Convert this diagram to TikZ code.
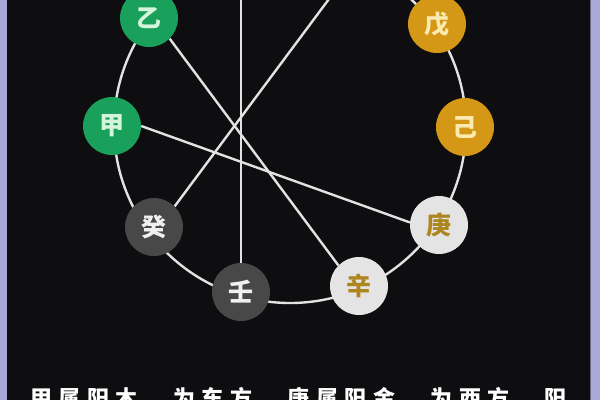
\documentclass[tikz,border=0pt]{standalone}
\usepackage{fontspec}
\setmainfont{Noto Sans CJK SC}
\usetikzlibrary{backgrounds}
\definecolor{bgc}{HTML}{0E0D10}
\definecolor{lav}{HTML}{A9A9D9}
\definecolor{edgec}{HTML}{6A6A8A}
\definecolor{linec}{HTML}{E2E2E2}
\definecolor{woodf}{HTML}{19A05A}
\definecolor{woodt}{HTML}{D4F5DC}
\definecolor{earthf}{HTML}{D59816}
\definecolor{eartht}{HTML}{FBEBB0}
\definecolor{metalf}{HTML}{E4E4E4}
\definecolor{metalt}{HTML}{AE8620}
\definecolor{waterf}{HTML}{484848}
\definecolor{watert}{HTML}{F0F0F0}
\begin{document}
\begin{tikzpicture}[x=1pt,y=-1pt,
  stem/.style={circle, minimum size=58pt, inner sep=0pt,
    font=\fontsize{25}{25}\selectfont\bfseries},
  wood/.style={stem, fill=woodf, text=woodt},
  earth/.style={stem, fill=earthf, text=eartht},
  metal/.style={stem, fill=metalf, text=metalt},
  water/.style={stem, fill=waterf, text=watert},
  link/.style={draw=linec, line width=2.4pt},
  caption/.style={anchor=base west, inner sep=0pt, text=white,
    font=\fontsize{22}{22}\selectfont\bfseries\addfontfeature{LetterSpace=30}}]
\useasboundingbox (0,0) rectangle (600,400);
% stems
\node[wood]  (yi)   at (149,18)  {乙};
\node[wood]  (jia)  at (112,126) {甲};
\node[water] (gui)  at (154,227) {癸};
\node[water] (ren)  at (241,292) {壬};
\node[metal] (xin)  at (359,286) {辛};
\node[metal] (geng) at (439,225) {庚};
\node[earth] (ji)   at (465,127) {己};
\node[earth] (wu)   at (437,24)  {戊};
\coordinate (topA) at (241,-45);
\coordinate (topB) at (358,-40);
\coordinate (ctr) at (290,127);
\node[caption] (cap) at (30,406) {甲属阳木，为东方，庚属阳金，为西方，阳};
\begin{scope}[on background layer]
  \fill[bgc] (0,0) rectangle (600,400);
  \fill[lav] (0,0) rectangle (7,400);
  \fill[lav] (590,0) rectangle (600,400);
  \draw[edgec, line width=1pt] (590.5,0) -- (590.5,400);
  \draw[link] (ctr) circle[radius=176];
  \draw[link] (ren.north) -- (topA);
  \draw[link] (yi.-45) -- (xin.135);
  \draw[link] (jia.east) -- (geng.175);
  \draw[link] (gui.45) -- (topB);
\end{scope}
\end{tikzpicture}
\end{document}
